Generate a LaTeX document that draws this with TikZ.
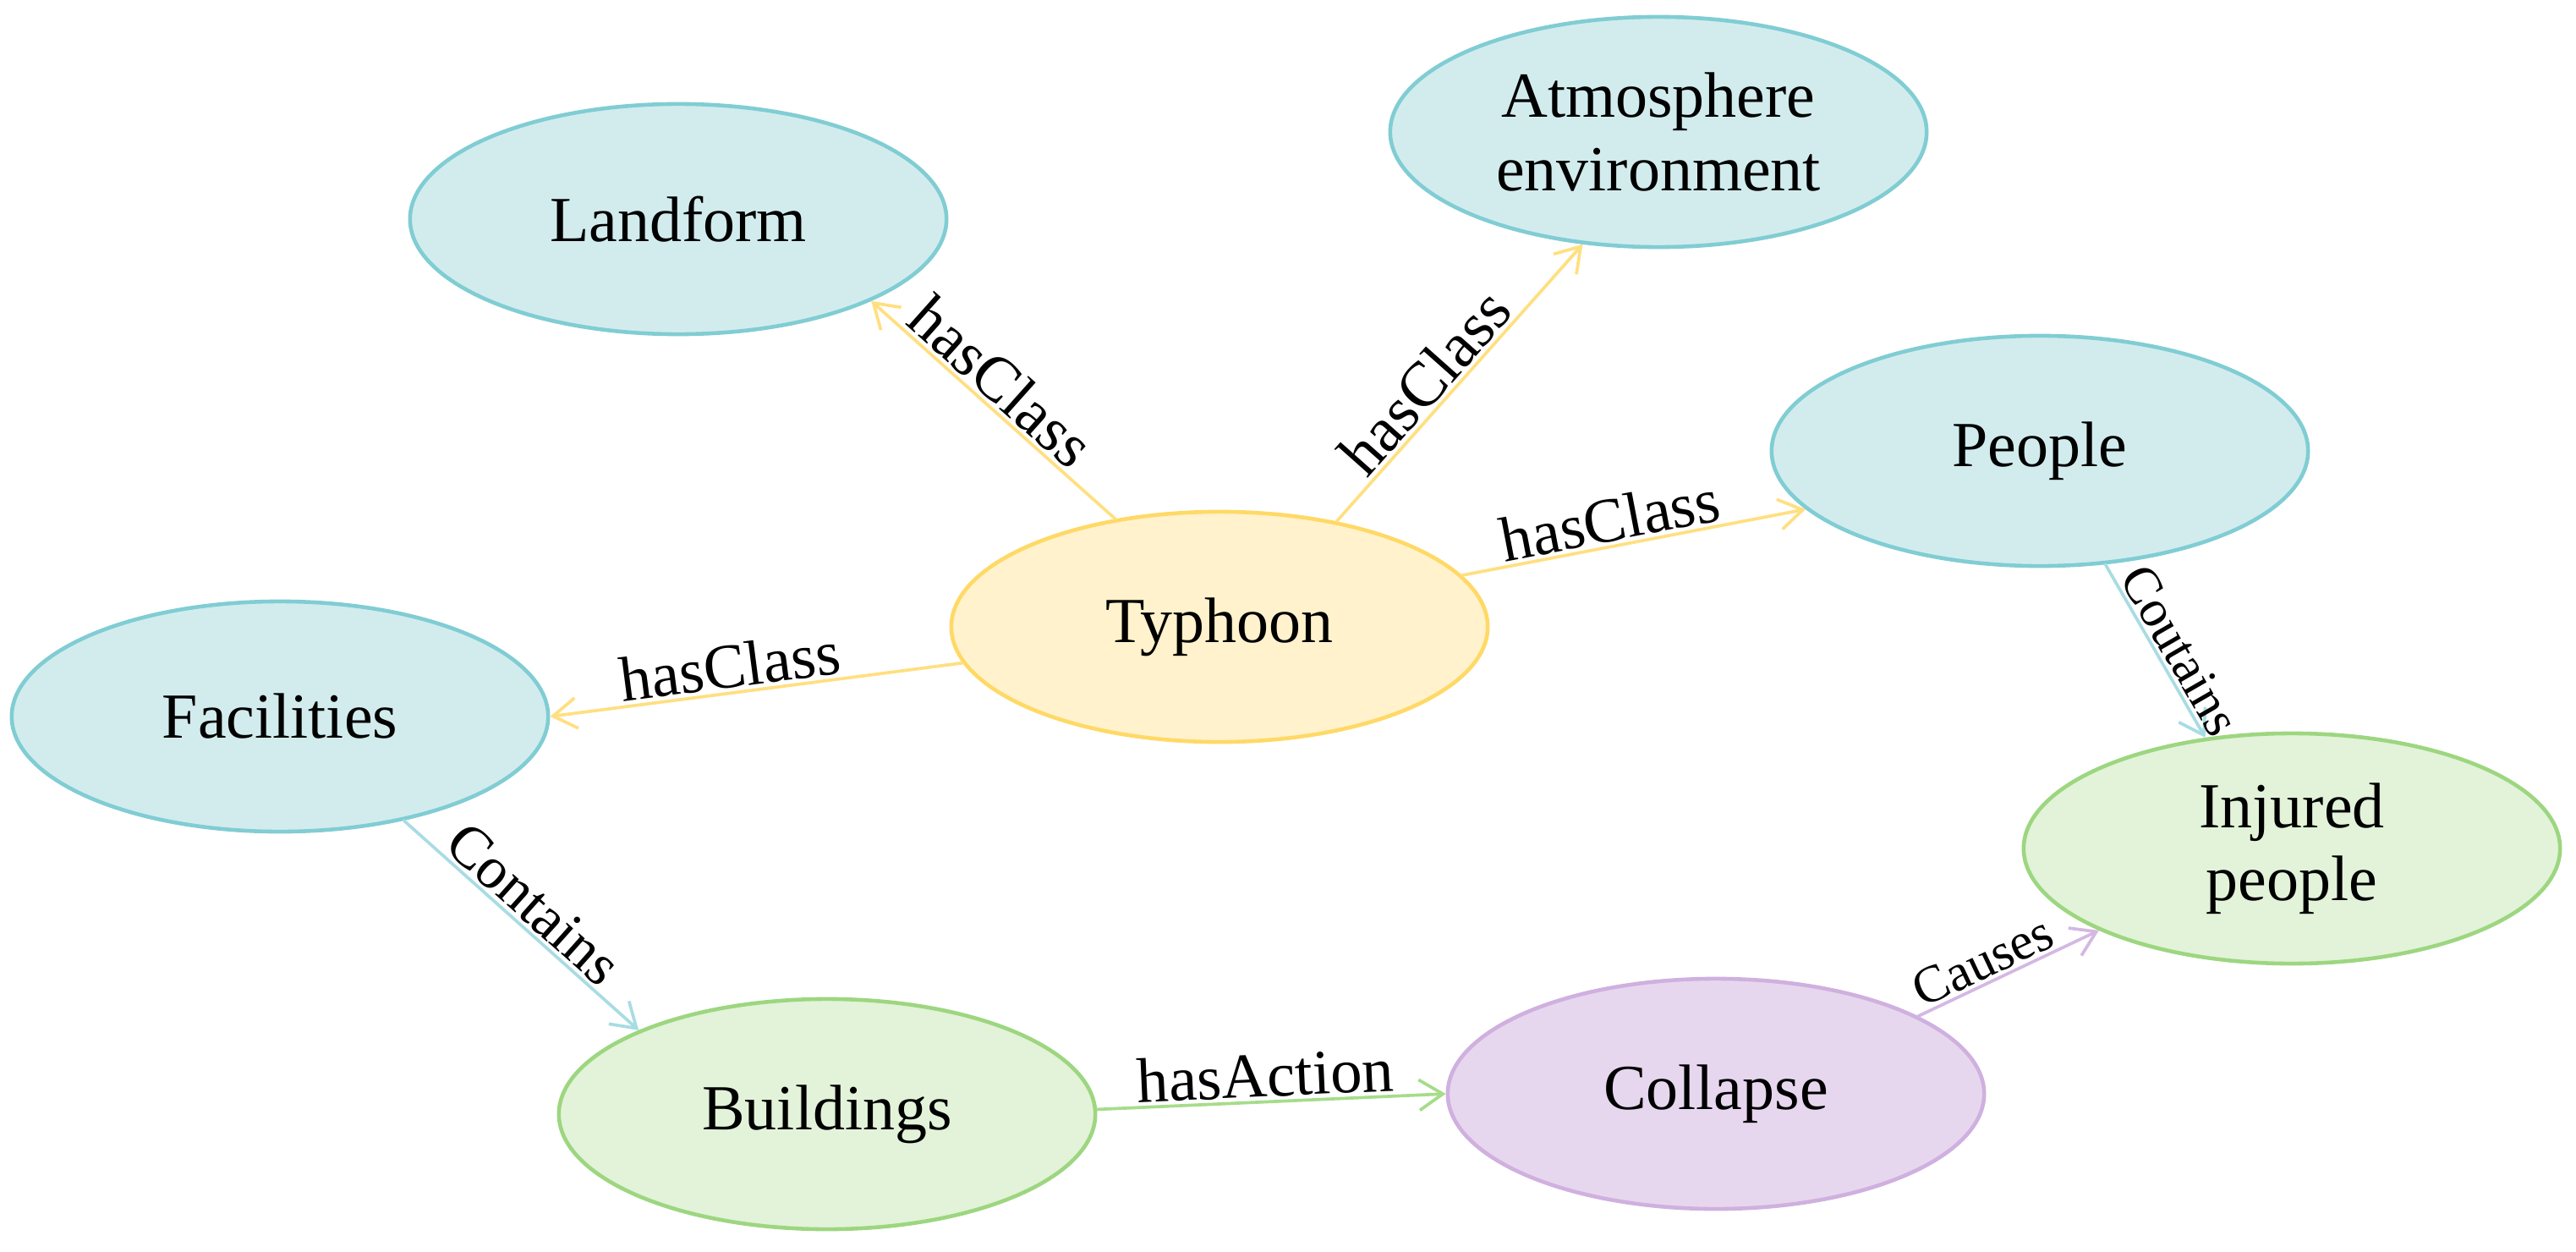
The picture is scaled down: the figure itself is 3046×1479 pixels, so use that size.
\documentclass[tikz,border=0pt]{standalone}
\usepackage{fontspec}
\setmainfont{Liberation Serif}
\usetikzlibrary{shapes.geometric,arrows.meta}
\definecolor{tealfill}{HTML}{D2ECEE}
\definecolor{tealdraw}{HTML}{80CDD3}
\definecolor{yelfill}{HTML}{FFF2CC}
\definecolor{yeldraw}{HTML}{FFD966}
\definecolor{grnfill}{HTML}{E2F3D9}
\definecolor{grndraw}{HTML}{9DD680}
\definecolor{purfill}{HTML}{E6D7EE}
\definecolor{purdraw}{HTML}{CFB0DF}
\definecolor{yelarrow}{HTML}{FFDF80}
\definecolor{tealarrow}{HTML}{A8DCE3}
\definecolor{grnarrow}{HTML}{A6DC8A}
\definecolor{purarrow}{HTML}{D4B8E3}
\tikzset{
  concept/.style={ellipse, minimum width=6.34cm, minimum height=2.72cm, inner sep=0pt,
    line width=1.3pt, align=center, font=\fontsize{21.6}{24.5}\selectfont},
  bluenode/.style={concept, fill=tealfill, draw=tealdraw},
  yelnode/.style={concept, fill=yelfill, draw=yeldraw},
  grnnode/.style={concept, fill=grnfill, draw=grndraw},
  purnode/.style={concept, fill=purfill, draw=purdraw},
  rel/.style={line width=1.05pt, line cap=round, -{Straight Barb[length=2.8mm,width=3.6mm,line width=1.05pt]}},
  lab/.style={sloped, above, inner sep=1pt, text=black, font=\fontsize{21.3}{24}\selectfont},
  labm/.style={lab, font=\fontsize{19.9}{22}\selectfont},
  labs/.style={lab, font=\fontsize{17.6}{20}\selectfont},
}
\begin{document}
\begin{tikzpicture}[x=0.01cm, y=-0.01cm]
\useasboundingbox (0,0) rectangle (3046,1479);
\node[bluenode] (land) at (802,259) {Landform};
\node[bluenode] (atm) at (1961,156) {Atmosphere\\environment};
\node[bluenode] (peop) at (2412,533) {People};
\node[yelnode] (typh) at (1442,741) {Typhoon};
\node[bluenode] (fac) at (331,847) {Facilities};
\node[grnnode] (inj) at (2710,1003) {Injured\\people};
\node[grnnode] (bld) at (978,1317) {Buildings};
\node[purnode] (col) at (2029,1293) {Collapse};

\draw[rel, yelarrow] (typh.134) -- node[lab, pos=0.54] {hasClass} (land.-23);
\draw[rel, yelarrow] (typh.42) -- node[lab, pos=0.44] {hasClass} (atm.-124);
\draw[rel, yelarrow] (typh.12) -- node[lab, pos=0.445] {hasClass} (peop.194);
\draw[rel, yelarrow] (typh.188) -- node[lab, pos=0.556] {hasClass} (fac.0);
\draw[rel, tealarrow] (fac.-40) -- node[labm, pos=0.484] {Contains} (bld.156);
\draw[rel, grnarrow] (bld.1) -- node[lab, pos=0.486] {hasAction} (col.180);
\draw[rel, purarrow] (col.21) -- node[labs, pos=0.41] {Causes} (inj.203);
\draw[rel, tealarrow] (peop.-60) -- node[labs, pos=0.56] {Coutains} (inj.128);
\end{tikzpicture}
\end{document}
